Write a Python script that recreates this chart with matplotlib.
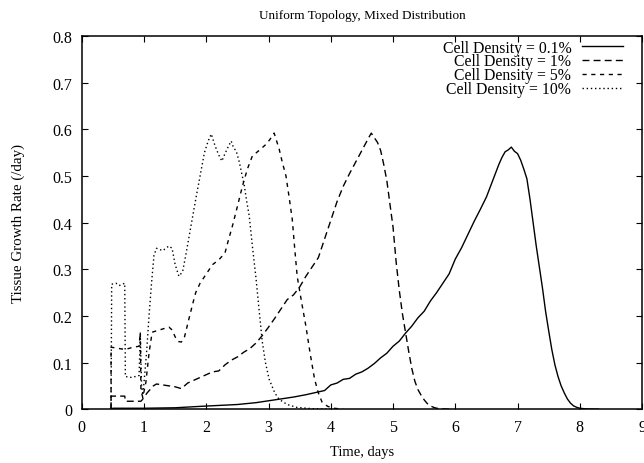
import matplotlib
matplotlib.use("Agg")
import matplotlib.pyplot as plt

# Growth rate curves (days, /day)
t_01 = [0.47, 0.5, 1.0, 1.5, 1.9, 2.2, 2.5, 2.8, 3.0, 3.2, 3.4, 3.6, 3.8, 3.9, 4.0, 4.1, 4.2,
        4.3, 4.4, 4.5, 4.6, 4.7, 4.8, 4.9, 5.0, 5.1, 5.2, 5.3, 5.4, 5.5, 5.6, 5.7, 5.8, 5.9,
        6.0, 6.1, 6.2, 6.3, 6.4, 6.5, 6.6, 6.7, 6.75, 6.8, 6.85, 6.9, 6.95, 7.0, 7.05, 7.1,
        7.15, 7.2, 7.25, 7.3, 7.35, 7.4, 7.45, 7.5, 7.55, 7.6, 7.65, 7.7, 7.75, 7.8, 7.85,
        7.9, 7.95, 8.0, 8.1, 8.3]
rate_01 = [0.0, 0.002, 0.002, 0.003, 0.006, 0.008, 0.010, 0.014, 0.018, 0.022, 0.026, 0.031,
           0.037, 0.040, 0.052, 0.056, 0.064, 0.066, 0.075, 0.080, 0.088, 0.098, 0.110, 0.120,
           0.135, 0.146, 0.163, 0.178, 0.196, 0.210, 0.232, 0.250, 0.270, 0.290, 0.322, 0.346,
           0.374, 0.402, 0.428, 0.455, 0.490, 0.525, 0.540, 0.552, 0.556, 0.562, 0.553, 0.548,
           0.534, 0.515, 0.494, 0.450, 0.400, 0.350, 0.305, 0.260, 0.210, 0.168, 0.128, 0.095,
           0.070, 0.050, 0.035, 0.022, 0.013, 0.007, 0.004, 0.002, 0.0005, 0.0]

t_1 = [0.47, 0.47, 0.69, 0.70, 0.95, 0.97, 1.05, 1.15, 1.2, 1.3, 1.4, 1.5, 1.6, 1.7, 1.8, 1.9,
       2.0, 2.1, 2.2, 2.3, 2.4, 2.5, 2.6, 2.7, 2.8, 2.9, 3.0, 3.1, 3.2, 3.3, 3.4, 3.5, 3.6, 3.7,
       3.8, 3.9, 4.0, 4.1, 4.2, 4.3, 4.4, 4.5, 4.6, 4.65, 4.7, 4.75, 4.8, 4.85, 4.9, 4.95, 5.0,
       5.05, 5.1, 5.15, 5.2, 5.25, 5.3, 5.35, 5.4, 5.45, 5.5, 5.55, 5.6, 5.65, 5.7, 5.8, 5.9]
rate_1 = [0.0, 0.028, 0.028, 0.017, 0.017, 0.020, 0.035, 0.050, 0.054, 0.052, 0.050, 0.048,
          0.044, 0.056, 0.062, 0.068, 0.074, 0.080, 0.082, 0.095, 0.105, 0.112, 0.122, 0.130,
          0.142, 0.158, 0.176, 0.195, 0.215, 0.235, 0.245, 0.262, 0.285, 0.305, 0.325, 0.365,
          0.405, 0.445, 0.478, 0.505, 0.530, 0.555, 0.580, 0.592, 0.582, 0.572, 0.555, 0.525,
          0.490, 0.440, 0.390, 0.315, 0.255, 0.205, 0.165, 0.125, 0.088, 0.060, 0.042, 0.030,
          0.020, 0.012, 0.007, 0.004, 0.002, 0.0005, 0.0]

t_5 = [0.47, 0.47, 0.6, 0.7, 0.8, 0.92, 0.94, 0.95, 0.98, 1.03, 1.08, 1.13, 1.2, 1.3, 1.4,
       1.45, 1.5, 1.55, 1.6, 1.65, 1.72, 1.78, 1.83, 1.9, 2.0, 2.1, 2.2, 2.3, 2.35, 2.42, 2.5,
       2.58, 2.66, 2.74, 2.85, 2.96, 3.02, 3.09, 3.13, 3.17, 3.22, 3.28, 3.33, 3.38, 3.42,
       3.46, 3.53, 3.6, 3.67, 3.74, 3.8, 3.86, 3.95, 4.05, 4.2]
rate_5 = [0.0, 0.133, 0.130, 0.128, 0.132, 0.135, 0.165, 0.040, 0.025, 0.058, 0.120, 0.165,
          0.168, 0.172, 0.176, 0.170, 0.155, 0.145, 0.144, 0.155, 0.193, 0.225, 0.250, 0.270,
          0.290, 0.310, 0.320, 0.335, 0.360, 0.393, 0.435, 0.478, 0.515, 0.543, 0.555, 0.568,
          0.578, 0.592, 0.575, 0.558, 0.530, 0.500, 0.455, 0.408, 0.345, 0.285, 0.230, 0.178,
          0.118, 0.064, 0.035, 0.015, 0.006, 0.002, 0.0]

t_10 = [0.47, 0.48, 0.55, 0.6, 0.69, 0.70, 0.8, 0.92, 0.94, 0.96, 0.98, 1.0, 1.04, 1.08, 1.12,
        1.16, 1.2, 1.3, 1.4, 1.45, 1.5, 1.56, 1.62, 1.67, 1.75, 1.83, 1.9, 1.97, 2.03, 2.08,
        2.14, 2.2, 2.25, 2.3, 2.36, 2.4, 2.44, 2.48, 2.53, 2.57, 2.61, 2.65, 2.69, 2.74, 2.8,
        2.85, 2.9, 2.95, 3.01, 3.1, 3.17, 3.3, 3.45, 3.7, 4.0]
rate_10 = [0.0, 0.268, 0.270, 0.265, 0.270, 0.070, 0.068, 0.072, 0.160, 0.050, 0.030, 0.058,
           0.120, 0.200, 0.270, 0.330, 0.345, 0.340, 0.350, 0.345, 0.310, 0.285, 0.295, 0.330,
           0.390, 0.450, 0.500, 0.550, 0.575, 0.590, 0.565, 0.545, 0.532, 0.548, 0.565, 0.575,
           0.560, 0.554, 0.530, 0.505, 0.480, 0.445, 0.414, 0.350, 0.279, 0.210, 0.144, 0.100,
           0.064, 0.035, 0.021, 0.010, 0.004, 0.001, 0.0]

labels = ["Cell Density = 0.1%", "Cell Density = 1%", "Cell Density = 5%", "Cell Density = 10%"]
x_ticks = [0, 1, 2, 3, 4, 5, 6, 7, 8, 9]
y_ticks = [0, 0.1, 0.2, 0.3, 0.4, 0.5, 0.6, 0.7, 0.8]
y_tick_labels = ["0", "0.1", "0.2", "0.3", "0.4", "0.5", "0.6", "0.7", "0.8"]

plt.rcParams["font.family"] = ["Liberation Serif", "DejaVu Serif"]
plt.rcParams["font.size"] = 10

fig = plt.figure(figsize=(6.44, 4.64), dpi=100)
ax = fig.add_axes([0.127, 0.116, 0.870, 0.804])

ax.plot(t_01, rate_01, color="black", lw=1.0, linestyle="-", label=labels[0])
ax.plot(t_1, rate_1, color="black", lw=1.0, linestyle=(0, (5.0, 3.0)), label=labels[1])
ax.plot(t_5, rate_5, color="black", lw=1.0, linestyle=(0, (3.0, 3.3)), label=labels[2])
ax.plot(t_10, rate_10, color="black", lw=1.0, linestyle=(0, (1, 2)), label=labels[3])

ax.set_xlim(0, 9)
ax.set_ylim(0, 0.8)
ax.set_xticks(x_ticks)
ax.set_yticks(y_ticks)
ax.set_yticklabels(y_tick_labels)
ax.tick_params(direction="in", top=True, right=True, length=4, width=0.8, pad=7,
               labelsize=11.5)
for spine in ax.spines.values():
    spine.set_linewidth(1.1)

ax.set_xlabel("Time, days", fontsize=10.5, labelpad=7.5)
ax.set_ylabel("Tissue Growth Rate (/day)", fontsize=10.8, labelpad=19.5)
ax.set_title("Uniform Topology, Mixed Distribution", fontsize=9.5, pad=13)

leg = ax.legend(loc="upper right", bbox_to_anchor=(0.969, 0.995), frameon=False,
                markerfirst=False, fontsize=11.3, handlelength=2.6, handletextpad=0.7,
                labelspacing=-0.135, borderaxespad=0.0, borderpad=0.1)

plt.savefig("out.png", dpi=100)
